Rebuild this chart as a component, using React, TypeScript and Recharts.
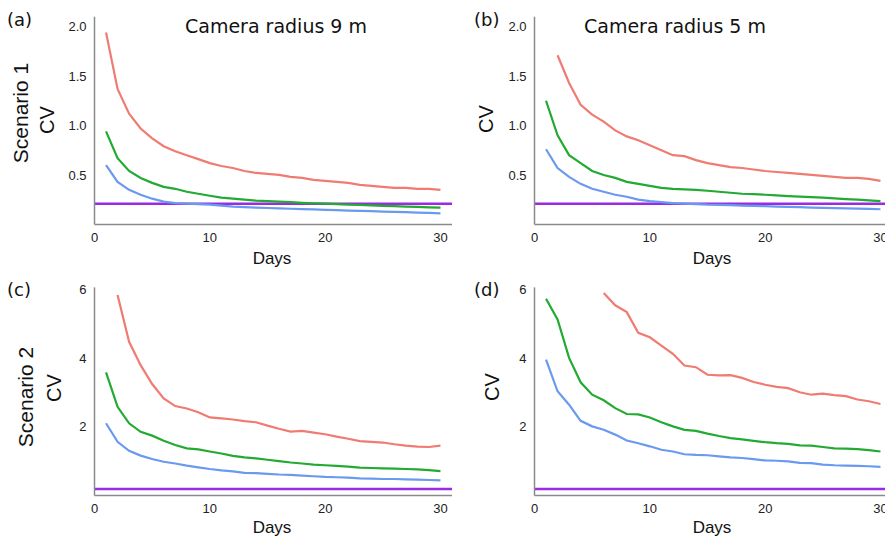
import React from 'react';
import { LineChart, Line, XAxis, YAxis, ReferenceLine } from 'recharts';

// ---------- data ----------
const DAYS = [1, 2, 3, 4, 5, 6, 7, 8, 9, 10, 11, 12, 13, 14, 15, 16, 17, 18, 19, 20, 21, 22, 23, 24, 25, 26, 27, 28, 29, 30];

// Scenario 1, camera radius 9 m (a)
const A_RED = [1.94, 1.37, 1.12, 0.97, 0.87, 0.79, 0.74, 0.70, 0.66, 0.62, 0.59, 0.57, 0.54, 0.52, 0.51, 0.50, 0.48, 0.47, 0.45, 0.44, 0.43, 0.42, 0.40, 0.39, 0.38, 0.37, 0.37, 0.36, 0.36, 0.35];
const A_GREEN = [0.94, 0.67, 0.54, 0.47, 0.42, 0.38, 0.36, 0.33, 0.31, 0.29, 0.27, 0.26, 0.25, 0.24, 0.235, 0.23, 0.225, 0.218, 0.213, 0.21, 0.205, 0.2, 0.196, 0.192, 0.188, 0.184, 0.18, 0.177, 0.173, 0.169];
const A_BLUE = [0.60, 0.43, 0.35, 0.30, 0.26, 0.23, 0.215, 0.21, 0.205, 0.20, 0.19, 0.18, 0.175, 0.17, 0.166, 0.162, 0.158, 0.155, 0.151, 0.147, 0.144, 0.14, 0.137, 0.134, 0.13, 0.127, 0.124, 0.12, 0.116, 0.112];
const A_TARGET = 0.21;

// Scenario 1, camera radius 5 m (b)
const B_RED = [null, 1.71, 1.43, 1.21, 1.11, 1.04, 0.95, 0.89, 0.85, 0.80, 0.75, 0.70, 0.69, 0.65, 0.62, 0.60, 0.58, 0.57, 0.555, 0.54, 0.53, 0.52, 0.51, 0.50, 0.49, 0.48, 0.47, 0.47, 0.46, 0.44];
const B_GREEN = [1.25, 0.90, 0.70, 0.62, 0.54, 0.50, 0.47, 0.43, 0.41, 0.39, 0.37, 0.36, 0.355, 0.35, 0.34, 0.33, 0.32, 0.31, 0.307, 0.30, 0.293, 0.286, 0.28, 0.276, 0.27, 0.263, 0.256, 0.25, 0.242, 0.236];
const B_BLUE = [0.76, 0.57, 0.48, 0.41, 0.36, 0.33, 0.30, 0.28, 0.25, 0.235, 0.225, 0.215, 0.21, 0.205, 0.20, 0.198, 0.195, 0.19, 0.187, 0.184, 0.18, 0.177, 0.174, 0.17, 0.168, 0.165, 0.162, 0.16, 0.157, 0.153];
const B_TARGET = 0.21;

// Scenario 2, camera radius 9 m (c)
const C_RED = [null, 5.83, 4.47, 3.79, 3.24, 2.82, 2.60, 2.53, 2.42, 2.27, 2.24, 2.21, 2.16, 2.13, 2.03, 1.94, 1.86, 1.88, 1.83, 1.78, 1.71, 1.65, 1.58, 1.56, 1.54, 1.49, 1.45, 1.42, 1.41, 1.45];
const C_GREEN = [3.58, 2.58, 2.10, 1.85, 1.74, 1.59, 1.47, 1.37, 1.34, 1.28, 1.22, 1.15, 1.11, 1.08, 1.04, 1.00, 0.96, 0.93, 0.90, 0.88, 0.86, 0.84, 0.81, 0.80, 0.79, 0.78, 0.77, 0.76, 0.74, 0.71];
const C_BLUE = [2.10, 1.56, 1.30, 1.16, 1.06, 0.98, 0.93, 0.87, 0.82, 0.77, 0.73, 0.70, 0.66, 0.65, 0.63, 0.61, 0.60, 0.58, 0.56, 0.54, 0.53, 0.52, 0.50, 0.49, 0.48, 0.48, 0.47, 0.46, 0.45, 0.44];
const C_TARGET = 0.19;

// Scenario 2, camera radius 5 m (d)
const D_RED = [null, null, null, null, null, 5.89, 5.53, 5.33, 4.73, 4.60, 4.36, 4.12, 3.78, 3.73, 3.51, 3.49, 3.50, 3.42, 3.30, 3.22, 3.16, 3.12, 3.00, 2.93, 2.96, 2.92, 2.89, 2.79, 2.74, 2.66];
const D_GREEN = [5.72, 5.12, 4.00, 3.29, 2.93, 2.77, 2.54, 2.37, 2.36, 2.27, 2.13, 2.01, 1.91, 1.88, 1.80, 1.73, 1.67, 1.63, 1.59, 1.55, 1.52, 1.50, 1.46, 1.45, 1.41, 1.37, 1.36, 1.35, 1.32, 1.28];
const D_BLUE = [3.95, 3.03, 2.64, 2.17, 2.01, 1.91, 1.77, 1.60, 1.52, 1.43, 1.33, 1.28, 1.20, 1.18, 1.17, 1.14, 1.11, 1.09, 1.06, 1.02, 1.01, 0.99, 0.95, 0.94, 0.90, 0.88, 0.87, 0.86, 0.85, 0.83];
const D_TARGET = 0.19;

const X_TICKS = [0, 10, 20, 30];
const Y_TICKS_S1 = [0.5, 1.0, 1.5, 2.0];
const Y_TICKS_S2 = [2, 4, 6];

const TITLE_9 = 'Camera radius 9 m';
const TITLE_5 = 'Camera radius 5 m';

// ---------- styles ----------
const RED = '#F07B72';
const GREEN = '#22AA33';
const BLUE = '#6A9AF0';
const PURPLE = '#9A2BE2';
const AXIS = '#8a8a8a';
const SANS = '"Liberation Sans", Arial, sans-serif';
const DEJAVU = '"DejaVu Sans", sans-serif';

function build(red: (number | null)[], green: number[], blue: number[]) {
  return DAYS.map((d, i) => ({ day: d, red: red[i], green: green[i], blue: blue[i] }));
}

type PanelProps = {
  left: number;
  top: number;
  height: number;
  marginTop: number;
  marginRight: number;
  yAxisWidth: number;
  xAxisHeight: number;
  yDomain: [number, number];
  yTicks: number[];
  fmt: (v: number) => string;
  data: any[];
  target: number;
};

function Panel(p: PanelProps) {
  const tick = { fontFamily: SANS, fontSize: 13, fill: '#222' };
  return (
    <div style={{ position: 'absolute', left: p.left, top: p.top }}>
      <LineChart
        width={460}
        height={p.height}
        data={p.data}
        margin={{ top: p.marginTop, right: p.marginRight, bottom: 0, left: 0 }}
      >
        <XAxis
          type="number"
          dataKey="day"
          domain={[0, 31]}
          ticks={X_TICKS}
          allowDataOverflow
          tickLine={false}
          axisLine={{ stroke: AXIS, strokeWidth: 1.5 }}
          tick={tick}
          height={p.xAxisHeight}
        />
        <YAxis
          type="number"
          domain={p.yDomain}
          ticks={p.yTicks}
          allowDataOverflow
          tickLine={false}
          axisLine={{ stroke: AXIS, strokeWidth: 1.5 }}
          tick={tick}
          tickFormatter={p.fmt}
          width={p.yAxisWidth}
        />
        <ReferenceLine y={p.target} stroke={PURPLE} strokeWidth={2.5} />
        <Line type="linear" dataKey="red" stroke={RED} strokeWidth={2.2} dot={false} isAnimationActive={false} />
        <Line type="linear" dataKey="green" stroke={GREEN} strokeWidth={2.2} dot={false} isAnimationActive={false} />
        <Line type="linear" dataKey="blue" stroke={BLUE} strokeWidth={2.2} dot={false} isAnimationActive={false} />
      </LineChart>
    </div>
  );
}

const fmt1 = (v: number) => v.toFixed(1);
const fmt0 = (v: number) => String(v);

function VText({ x, y, size, children }: { x: number; y: number; size: number; children: React.ReactNode }) {
  return (
    <text
      transform={`translate(${x},${y}) rotate(-90)`}
      textAnchor="middle"
      fontFamily={SANS}
      fontSize={size}
      fill="#111"
    >
      {children}
    </text>
  );
}

export default function App() {
  return (
    <div
      style={{
        position: 'absolute',
        left: 0,
        top: 0,
        width: 885,
        height: 536,
        overflow: 'hidden',
        background: '#fff',
      }}
    >
      <Panel
        left={0}
        top={0}
        height={270}
        marginTop={16.7}
        marginRight={8}
        yAxisWidth={94.5}
        xAxisHeight={45.6}
        yDomain={[0, 2.1]}
        yTicks={Y_TICKS_S1}
        fmt={fmt1}
        data={build(A_RED, A_GREEN, A_BLUE)}
        target={A_TARGET}
      />
      <Panel
        left={440}
        top={0}
        height={270}
        marginTop={16.7}
        marginRight={8}
        yAxisWidth={94.5}
        xAxisHeight={45.6}
        yDomain={[0, 2.1]}
        yTicks={Y_TICKS_S1}
        fmt={fmt1}
        data={build(B_RED, B_GREEN, B_BLUE)}
        target={B_TARGET}
      />
      <Panel
        left={0}
        top={270}
        height={266}
        marginTop={17.4}
        marginRight={8}
        yAxisWidth={94.5}
        xAxisHeight={40.5}
        yDomain={[0, 6.05]}
        yTicks={Y_TICKS_S2}
        fmt={fmt0}
        data={build(C_RED, C_GREEN, C_BLUE)}
        target={C_TARGET}
      />
      <Panel
        left={440}
        top={270}
        height={266}
        marginTop={17.4}
        marginRight={8}
        yAxisWidth={94.5}
        xAxisHeight={40.5}
        yDomain={[0, 6.05]}
        yTicks={Y_TICKS_S2}
        fmt={fmt0}
        data={build(D_RED, D_GREEN, D_BLUE)}
        target={D_TARGET}
      />
      <svg
        width={885}
        height={536}
        style={{ position: 'absolute', left: 0, top: 0, pointerEvents: 'none' }}
      >
        {/* panel letters */}
        <text x={7} y={26} fontFamily={DEJAVU} fontSize={18} fill="#111">(a)</text>
        <text x={474} y={26} fontFamily={DEJAVU} fontSize={18} fill="#111">(b)</text>
        <text x={7} y={296} fontFamily={DEJAVU} fontSize={18} fill="#111">(c)</text>
        <text x={474} y={296} fontFamily={DEJAVU} fontSize={18} fill="#111">(d)</text>
        {/* column titles */}
        <text x={276} y={33} textAnchor="middle" fontFamily={DEJAVU} fontSize={19} fill="#111">{TITLE_9}</text>
        <text x={675} y={33} textAnchor="middle" fontFamily={DEJAVU} fontSize={19} fill="#111">{TITLE_5}</text>
        {/* row labels */}
        <VText x={28} y={113} size={21}>Scenario 1</VText>
        <VText x={54} y={120} size={20}>CV</VText>
        <VText x={493} y={119} size={20}>CV</VText>
        <VText x={33} y={397} size={21}>Scenario 2</VText>
        <VText x={61} y={388} size={20}>CV</VText>
        <VText x={499} y={387} size={20}>CV</VText>
        {/* x labels */}
        <text x={272} y={264} textAnchor="middle" fontFamily={SANS} fontSize={17} fill="#111">Days</text>
        <text x={712} y={264} textAnchor="middle" fontFamily={SANS} fontSize={17} fill="#111">Days</text>
        <text x={272} y={533} textAnchor="middle" fontFamily={SANS} fontSize={17} fill="#111">Days</text>
        <text x={712} y={533} textAnchor="middle" fontFamily={SANS} fontSize={17} fill="#111">Days</text>
      </svg>
    </div>
  );
}
